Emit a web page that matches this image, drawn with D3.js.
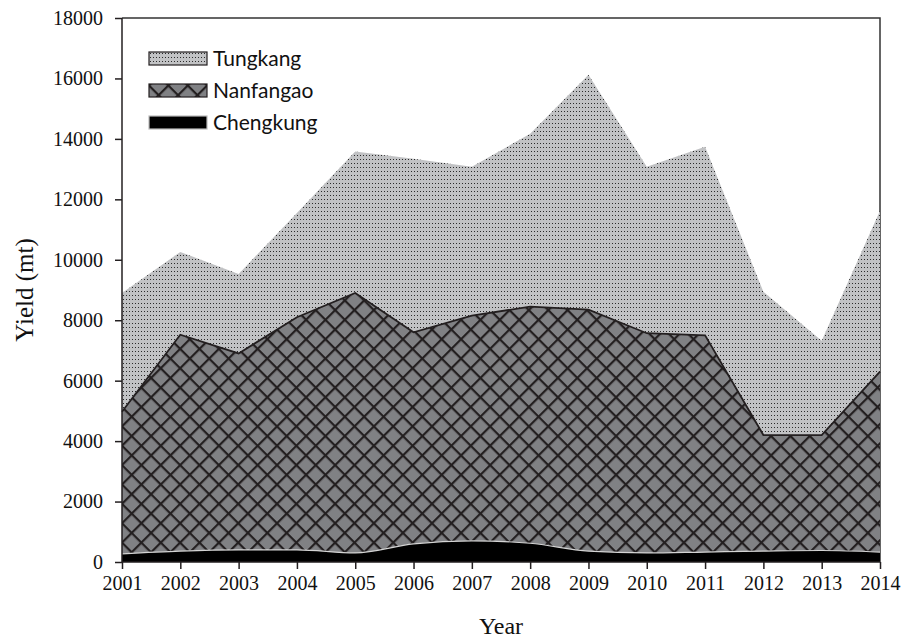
<!DOCTYPE html>
<html>
<head>
<meta charset="utf-8">
<script src="https://cdn.jsdelivr.net/npm/d3@7"></script>
<style>
  body { margin: 0; background: #fff; }
  svg { display: block; }
</style>
</head>
<body>
<div id="chart"></div>
<script>
// === Data (yield in mt, each series on its own) ===
const years = [2001, 2002, 2003, 2004, 2005, 2006, 2007, 2008, 2009, 2010, 2011, 2012, 2013, 2014];
const chengkung = [270, 360, 400, 400, 300, 600, 700, 620, 360, 300, 330, 360, 380, 330];
const nanfangao = [4700, 7160, 6500, 7700, 8600, 7000, 7450, 7830, 7990, 7270, 7170, 3840, 3820, 5970];
const tungkang = [3930, 2740, 2630, 3450, 4680, 5740, 4930, 5720, 7770, 5510, 6240, 4740, 3120, 5320];
const yTicks = [0, 2000, 4000, 6000, 8000, 10000, 12000, 14000, 16000, 18000];
const seriesNames = ["Chengkung", "Nanfangao", "Tungkang"];

const COLOR_TUNG = "#c1c2c4";
const COLOR_NAN = "#808184";
const COLOR_CHENG = "#000000";
const INK = "#231f20";

function drawAreaChart() {
    const svgWidth = 908, svgHeight = 644;
    const margin = { top: 18, right: 28, bottom: 82, left: 122 };
    const width = svgWidth - margin.left - margin.right;
    const height = svgHeight - margin.top - margin.bottom;

    const svg = d3.select("#chart").append("svg")
        .attr("width", svgWidth)
        .attr("height", svgHeight);

    // fill patterns: dots for Tungkang, diagonal grid for Nanfangao
    const defs = svg.append("defs");
    const dots = defs.append("pattern")
        .attr("id", "dots")
        .attr("patternUnits", "userSpaceOnUse")
        .attr("width", 3).attr("height", 4);
    dots.append("rect").attr("width", 3).attr("height", 4).attr("fill", COLOR_TUNG);
    dots.append("rect").attr("x", 1).attr("y", 1).attr("width", 1).attr("height", 1).attr("fill", "#2a2a2a");

    const s = 13.7;
    const hatch = defs.append("pattern")
        .attr("id", "hatch")
        .attr("patternUnits", "userSpaceOnUse")
        .attr("width", s).attr("height", s)
        .attr("patternTransform", "rotate(45)");
    hatch.append("rect").attr("width", s).attr("height", s).attr("fill", COLOR_NAN);
    hatch.append("rect").attr("width", s).attr("height", 2.2).attr("fill", INK);
    hatch.append("rect").attr("width", 2.2).attr("height", s).attr("fill", INK);

    const g = svg.append("g")
        .attr("transform", `translate(${margin.left},${margin.top})`);

    // stack the three series
    const table = years.map((yr, i) => ({
        year: yr,
        Chengkung: chengkung[i],
        Nanfangao: nanfangao[i],
        Tungkang: tungkang[i]
    }));
    const stacked = d3.stack().keys(seriesNames)(table);

    const x = d3.scaleLinear()
        .domain(d3.extent(years))
        .range([0, width]);

    const y = d3.scaleLinear()
        .domain([0, 18000])
        .range([height, 0]);

    // frame (top and right)
    g.append("path")
        .attr("d", `M0,0H${width}V${height}`)
        .attr("fill", "none")
        .attr("stroke", "#333")
        .attr("stroke-width", 1.5);

    // each layer is filled from the baseline, back to front
    const styles = {
        Tungkang: { fill: "url(#dots)", curve: d3.curveLinear, stroke: "none" },
        Nanfangao: { fill: "url(#hatch)", curve: d3.curveLinear, stroke: INK },
        Chengkung: { fill: COLOR_CHENG, curve: d3.curveMonotoneX, stroke: "#d4d4d4" }
    };

    stacked.slice().reverse().forEach(layer => {
        const st = styles[layer.key];
        const area = d3.area()
            .curve(st.curve)
            .x(d => x(d.data.year))
            .y0(y(0))
            .y1(d => y(d[1]));
        const line = d3.line()
            .curve(st.curve)
            .x(d => x(d.data.year))
            .y(d => y(d[1]));

        g.append("path")
            .datum(layer)
            .attr("fill", st.fill)
            .attr("d", area);

        if (st.stroke !== "none") {
            g.append("path")
                .datum(layer)
                .attr("fill", "none")
                .attr("stroke", st.stroke)
                .attr("stroke-width", layer.key === "Nanfangao" ? 1.8 : 1.2)
                .attr("d", line);
        }
    });

    // axes
    const xAxis = g.append("g")
        .attr("transform", `translate(0,${height})`)
        .call(d3.axisBottom(x).tickValues(years).tickFormat(d3.format("d")).tickSize(7).tickPadding(7));
    const yAxis = g.append("g")
        .call(d3.axisLeft(y).tickValues(yTicks).tickFormat(d3.format("d")).tickSize(7).tickPadding(12));

    [xAxis, yAxis].forEach(ax => {
        ax.select(".domain").attr("stroke", INK).attr("stroke-width", 1.5);
        ax.selectAll(".tick line").attr("stroke", INK).attr("stroke-width", 1.5);
        ax.selectAll(".tick text")
            .attr("fill", "#111")
            .style("font-family", "'Liberation Serif', 'Times New Roman', serif")
            .style("font-size", "20px");
    });
    // y domain path should not draw outer tick at the bottom
    yAxis.select(".domain").attr("d", `M0,${height}V0`);
    xAxis.select(".domain").attr("d", `M0,0H${width}`);

    // axis titles
    svg.append("text")
        .attr("x", margin.left + width / 2)
        .attr("y", 634)
        .attr("text-anchor", "middle")
        .style("font-family", "'Liberation Serif', serif")
        .style("font-size", "24px")
        .attr("fill", "#111")
        .text("Year");

    svg.append("text")
        .attr("transform", `translate(33,${margin.top + height / 2}) rotate(-90)`)
        .attr("text-anchor", "middle")
        .style("font-family", "'Liberation Serif', serif")
        .style("font-size", "25px")
        .attr("fill", "#111")
        .text("Yield (mt)");

    // legend
    const legendItems = [
        { name: "Tungkang", fill: "url(#dots)" },
        { name: "Nanfangao", fill: "url(#hatch)" },
        { name: "Chengkung", fill: COLOR_CHENG }
    ];
    const legend = svg.append("g").attr("transform", "translate(149,52)");
    legendItems.forEach((item, i) => {
        const row = legend.append("g").attr("transform", `translate(0,${i * 32})`);
        row.append("rect")
            .attr("width", 58).attr("height", 13)
            .attr("fill", item.fill)
            .attr("stroke", i === 2 ? "#bbb" : INK)
            .attr("stroke-width", 1.2);
        row.append("text")
            .attr("x", 64).attr("y", 14)
            .style("font-family", "Lato, 'Open Sans', sans-serif")
            .style("font-size", "21px")
            .attr("fill", "#111")
            .text(item.name);
    });
}

drawAreaChart();
</script>
</body>
</html>
